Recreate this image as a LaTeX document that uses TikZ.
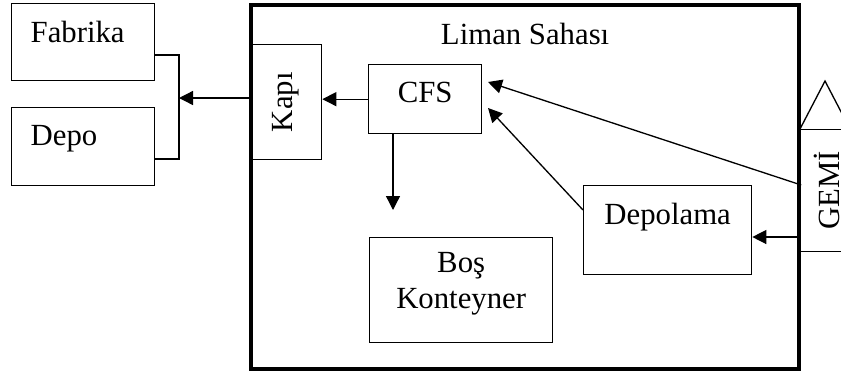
\documentclass[tikz,border=0pt]{standalone}
\usepackage{fontspec}
\setmainfont{Liberation Serif}
\usetikzlibrary{arrows.meta}

\begin{document}
\begin{tikzpicture}[x=0.2mm,y=-0.2mm,line width=0.75pt,
    >={Triangle[length=2.8mm,width=2.8mm]}]
            \useasboundingbox (0,0) rectangle (841,374);
            \begin{scope}[every node/.style={draw,line width=0.75pt,anchor=north west,inner sep=0pt,
                    font=\fontsize{17.5}{20.5}\selectfont}]
                \node[minimum width=109.6mm,minimum height=72.8mm,text height=7.8mm,text depth=65mm,line width=2.4pt] (liman) at (249,3) {Liman Sahası};
                \node[text width=21mm,align=left,inner xsep=3.8mm,text height=7.8mm,text depth=7.6mm] (fab) at (11,3) {Fabrika};
                \node[text width=21mm,align=left,inner xsep=3.8mm,text height=7.6mm,text depth=8mm] (depo) at (11,107) {Depo};
                \node[minimum width=14.4mm,minimum height=23mm] (kapi) at (249,44) {\rotatebox{90}{Kapı}};
                \node[minimum width=22.6mm,text height=7.6mm,text depth=6.2mm] (cfs) at (368,64) {CFS};
                \node[minimum width=36.6mm,align=center,text height=14.2mm,text depth=6.8mm] (bos) at (369,237) {Boş\\Konteyner};
                \node[minimum width=33.6mm,text height=7.8mm,text depth=10mm] (depolama) at (583,185) {Depolama};
                \node[minimum width=11.6mm,minimum height=24.4mm] (gemi) at (797,129) {\rotatebox{90}{GEMİ}};
            \end{scope}

            \coordinate (br) at (179,98);
            \coordinate (down) at (393,210);
            \coordinate (tipA) at (488,82);
            \coordinate (tipB) at (488,108);

            % bracket round Fabrika and Depo
            \draw (fab.east |- 0,55) -| (179,159) -- (depo.east |- 0,159);
            % bow of the ship
            \draw (800,129) -- (825,81) -- (850,129);

            \begin{scope}[every edge/.style={draw,->,line width=0.75pt}]
                \path
                    (kapi.west |- br) edge (br)
                    (cfs.west) edge (cfs.west -| kapi.east)
                    (cfs.south -| down) edge (down)
                    (depolama.west |- 0,210) edge (tipB)
                    (liman.east |- 0,185) edge (tipA)
                    (gemi.west |- 0,237) edge (depolama.east |- 0,237);
            \end{scope}
        \end{tikzpicture}
\end{document}
